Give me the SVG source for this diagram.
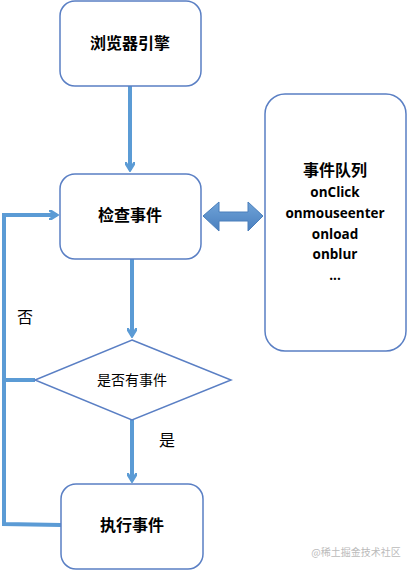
<svg xmlns="http://www.w3.org/2000/svg" width="407" height="571" viewBox="0 0 407 571">
<style>
.box{fill:#fff;stroke:#5a7fc4;stroke-width:1.5}
.conn{fill:none;stroke:#5b9bd5;stroke-width:4}
.t{font-family:"Noto Sans CJK SC","Liberation Sans",sans-serif;text-anchor:middle;fill:#000}
.b{font-weight:bold;font-size:16px}
.q{font-family:"Open Sans","Noto Sans CJK SC",sans-serif;font-weight:bold;font-size:13.5px;text-anchor:middle;fill:#000}
</style>
<defs>
<marker id="chev" markerWidth="10" markerHeight="10" refX="8" refY="5" orient="auto" markerUnits="userSpaceOnUse" viewBox="0 0 10 10">
<path d="M0,0 L8,5 L0,10" fill="none" stroke="#5b9bd5" stroke-width="3"/>
</marker>
<linearGradient id="g" x1="0" y1="0" x2="0" y2="1">
<stop offset="0" stop-color="#6fa3d8"/>
<stop offset="1" stop-color="#4a7fbe"/>
</linearGradient>
</defs>
<g id="connectors">
<path class="conn" d="M130,86 V170" marker-end="url(#chev)"/>
<path class="conn" d="M132,259 V336" marker-end="url(#chev)"/>
<path class="conn" d="M132,420 V481" marker-end="url(#chev)"/>
<path class="conn" d="M61,525 L4,524 V215 H57" marker-end="url(#chev)"/>
<path class="conn" d="M35,380 H4"/>
<path d="M203,216 L219,202 L219,212 L248,212 L248,202 L263,216 L248,231 L248,221 L219,221 L219,231 Z" fill="url(#g)" stroke="#4a7ebb" stroke-width="1"/>
</g>
<g id="engine">
<rect class="box" x="60" y="1" width="141" height="85" rx="15"/>
<text class="t b" x="130" y="49">浏览器引擎</text>
</g>
<g id="check">
<rect class="box" x="60" y="174" width="141" height="85" rx="15"/>
<text class="t b" x="130" y="221">检查事件</text>
</g>
<g id="queue">
<rect class="box" x="265" y="94" width="141" height="257" rx="20"/>
<text class="t b" x="335" y="176">事件队列</text>
<text class="q" x="335" y="197">onClick</text>
<text class="q" x="335" y="218">onmouseenter</text>
<text class="q" x="335" y="239">onload</text>
<text class="q" x="335" y="259">onblur</text>
<text class="q" x="335" y="280">...</text>
</g>
<g id="decision">
<path class="box" d="M132,340 L231,380 L132,420 L35,380 Z"/>
<text class="t" x="132" y="385" font-size="14">是否有事件</text>
</g>
<g id="execute">
<rect class="box" x="61" y="484" width="142" height="85" rx="15"/>
<text class="t b" x="132" y="531">执行事件</text>
</g>
<text class="t" x="25" y="323" font-size="16">否</text>
<text class="t" x="167" y="446" font-size="16">是</text>
<text x="356" y="556" font-family="Noto Sans CJK SC,sans-serif" font-size="10" fill="#bbb" text-anchor="middle">@稀土掘金技术社区</text>
</svg>
